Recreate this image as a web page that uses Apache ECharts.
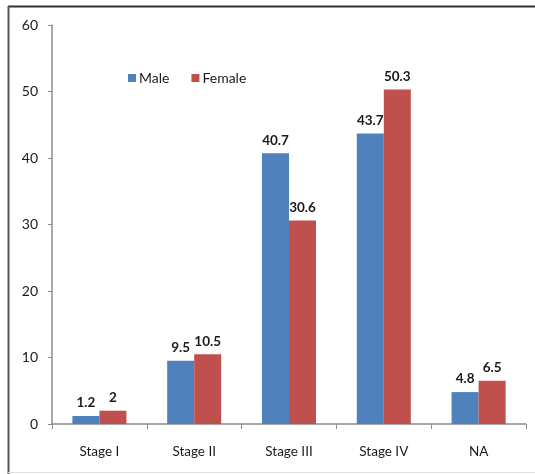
<!DOCTYPE html>
<html>
<head>
<meta charset="utf-8">
<script src="https://cdn.jsdelivr.net/npm/echarts@6/dist/echarts.min.js"></script>
<style>
  html, body { margin: 0; padding: 0; background: #fff; }
  #chart { width: 535px; height: 474px; }
</style>
</head>
<body>
<div id="chart"></div>
<script>
// Cancer stage distribution by sex (%)
const categories = ['Stage I', 'Stage II', 'Stage III', 'Stage IV', 'NA'];
const maleValues = [1.2, 9.5, 40.7, 43.7, 4.8];
const femaleValues = [2, 10.5, 30.6, 50.3, 6.5];
const yTicks = { min: 0, max: 60, interval: 10 };

const FONT = 'Lato, "Open Sans", sans-serif';
const chart = echarts.init(document.getElementById('chart'));

const labelStyle = {
  show: true,
  position: 'top',
  distance: 6,
  fontFamily: FONT,
  fontWeight: 'bold',
  fontSize: 13.5,
  color: '#1a1a1a'
};

chart.setOption({
  animation: false,
  backgroundColor: '#fff',
  textStyle: { fontFamily: FONT },
  grid: { left: 52, right: 9, top: 25, bottom: 50, containLabel: false },
  legend: {
    left: 123,
    top: 66,
    itemWidth: 8,
    itemHeight: 8,
    itemGap: 22,
    icon: 'rect',
    textStyle: { fontFamily: FONT, fontSize: 14, color: '#1a1a1a', padding: [0, 0, 0, -2] },
    data: ['Male', 'Female']
  },
  xAxis: {
    type: 'category',
    data: categories,
    axisLine: { lineStyle: { color: '#8c8c8c', width: 1.5 } },
    axisTick: { show: true, length: 5, lineStyle: { color: '#8c8c8c' } },
    axisLabel: { fontFamily: FONT, fontSize: 13.5, color: '#1a1a1a', margin: 21 },
    splitLine: { show: false }
  },
  yAxis: {
    type: 'value',
    min: yTicks.min,
    max: yTicks.max,
    interval: yTicks.interval,
    axisLine: { show: true, lineStyle: { color: '#8c8c8c', width: 1.5 } },
    axisTick: { show: true, length: 4, lineStyle: { color: '#8c8c8c' } },
    axisLabel: { fontFamily: FONT, fontSize: 14, color: '#1a1a1a', margin: 14 },
    splitLine: { show: false }
  },
  series: [
    {
      name: 'Male',
      type: 'bar',
      data: maleValues,
      barGap: '0%',
      barCategoryGap: '43%',
      itemStyle: { color: '#4F81BD' },
      label: labelStyle
    },
    {
      name: 'Female',
      type: 'bar',
      data: femaleValues,
      itemStyle: { color: '#C0504D' },
      label: labelStyle
    }
  ],
  graphic: [
    { type: 'line', shape: { x1: 8, y1: 6.5, x2: 535, y2: 6.5 }, style: { stroke: '#333', lineWidth: 2 } },
    { type: 'line', shape: { x1: 8.5, y1: 6, x2: 8.5, y2: 474 }, style: { stroke: '#555', lineWidth: 2 } },
    { type: 'line', shape: { x1: 8, y1: 472.5, x2: 535, y2: 472.5 }, style: { stroke: '#ddd', lineWidth: 1 } }
  ]
});
</script>
</body>
</html>
